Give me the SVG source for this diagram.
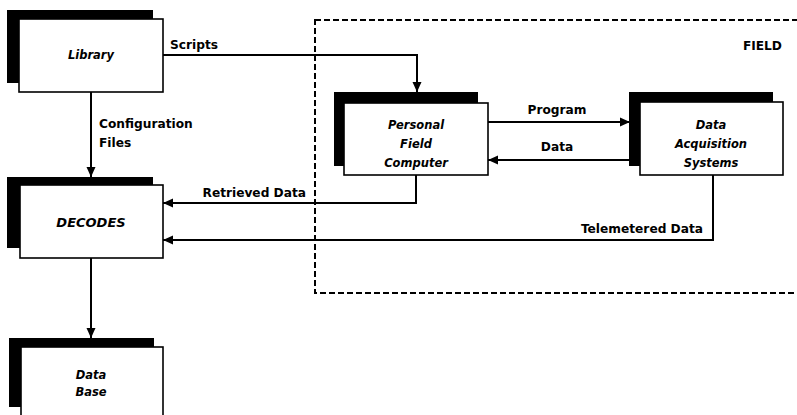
<svg xmlns="http://www.w3.org/2000/svg" width="797" height="415" viewBox="0 0 797 415">
<defs>
<style>
.shadow{fill:#000}
.box{fill:#fff;stroke:#000;stroke-width:1.6}
.conn{fill:none;stroke:#000;stroke-width:2}
.lbl{font-family:"DejaVu Sans",sans-serif;font-weight:bold;font-size:12.2px;fill:#000}
.node{font-family:"DejaVu Sans",sans-serif;font-weight:bold;font-style:italic;font-size:11.5px;fill:#000;text-anchor:middle}
.field{fill:none;stroke:#000;stroke-width:2;stroke-dasharray:6 3}
</style>
<marker id="arr" markerUnits="userSpaceOnUse" markerWidth="10" markerHeight="10" viewBox="0 0 10 10" refX="10" refY="5" orient="auto">
<path d="M0,0.5 L10,5 L0,9.5 Z" fill="#000"/>
</marker>
</defs>
<rect width="797" height="415" fill="#fff"/>
<rect class="field" x="315" y="20" width="490" height="273"/>
<text class="lbl" x="782" y="50" text-anchor="end">FIELD</text>
<g id="connectors">
<polyline class="conn" points="163,55 417,55 417,92" marker-end="url(#arr)"/>
<line class="conn" x1="91" y1="92" x2="91" y2="177" marker-end="url(#arr)"/>
<line class="conn" x1="488" y1="122" x2="630" y2="122" marker-end="url(#arr)"/>
<line class="conn" x1="630" y1="160" x2="488" y2="160" marker-end="url(#arr)"/>
<polyline class="conn" points="416,175 416,203 163,203" marker-end="url(#arr)"/>
<polyline class="conn" points="713,175 713,240 163,240" marker-end="url(#arr)"/>
<line class="conn" x1="91" y1="258" x2="91" y2="338" marker-end="url(#arr)"/>
<text class="lbl" x="170" y="49">Scripts</text>
<text class="lbl" x="99" y="128">Configuration</text>
<text class="lbl" x="99" y="147">Files</text>
<text class="lbl" x="557" y="114" text-anchor="middle">Program</text>
<text class="lbl" x="557" y="151" text-anchor="middle">Data</text>
<text class="lbl" x="306" y="197" text-anchor="end">Retrieved Data</text>
<text class="lbl" x="703" y="233" text-anchor="end">Telemetered Data</text>
</g>
<g id="library">
<rect class="shadow" x="7" y="10" width="146" height="73"/>
<rect class="box" x="19" y="19" width="144" height="73"/>
<text class="node" x="91" y="59">Library</text>
</g>
<g id="pfc">
<rect class="shadow" x="334" y="92" width="144" height="74"/>
<rect class="box" x="344" y="103" width="144" height="72"/>
<text class="node" x="416" y="129">Personal</text>
<text class="node" x="416" y="148">Field</text>
<text class="node" x="416" y="167">Computer</text>
</g>
<g id="das">
<rect class="shadow" x="629" y="92" width="144" height="74"/>
<rect class="box" x="640" y="102" width="143" height="73"/>
<text class="node" x="711" y="129">Data</text>
<text class="node" x="711" y="148">Acquisition</text>
<text class="node" x="711" y="167">Systems</text>
</g>
<g id="decodes">
<rect class="shadow" x="7" y="177" width="146" height="71"/>
<rect class="box" x="20" y="185" width="143" height="73"/>
<text class="node" x="91" y="227" style="font-size:13px">DECODES</text>
</g>
<g id="database">
<rect class="shadow" x="9" y="338" width="145" height="69"/>
<rect class="box" x="21" y="347" width="142" height="75"/>
<text class="node" x="91" y="379">Data</text>
<text class="node" x="91" y="396">Base</text>
</g>
</svg>
